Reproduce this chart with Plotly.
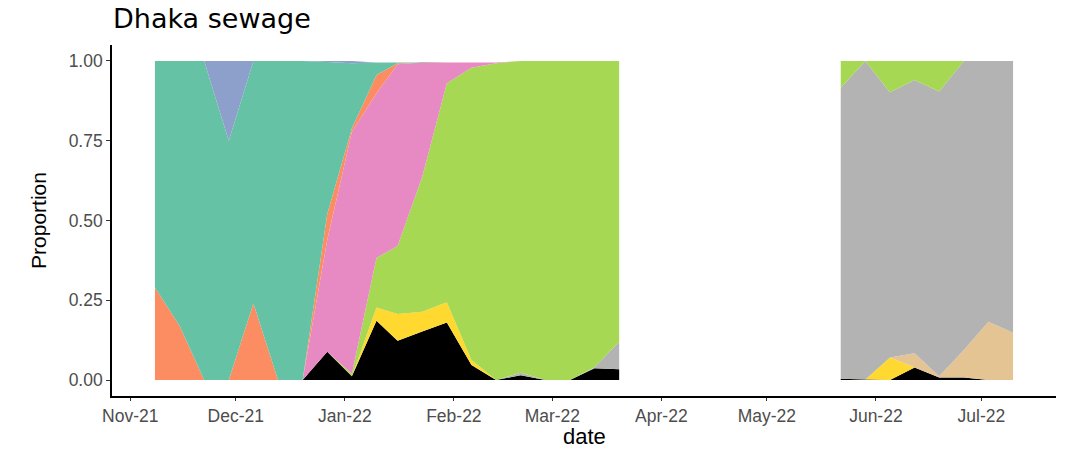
import pandas as pd
import plotly.graph_objects as go

# Weekly sewage sampling dates (two sampling runs with a gap in between)
dates = [
    "2021-11-08", "2021-11-15", "2021-11-22", "2021-11-29", "2021-12-06",
    "2021-12-13", "2021-12-20", "2021-12-27", "2022-01-03", "2022-01-10",
    "2022-01-16", "2022-01-23", "2022-01-30", "2022-02-06", "2022-02-13",
    "2022-02-20", "2022-02-27", "2022-03-06", "2022-03-13", "2022-03-20",
    "2022-05-22", "2022-05-29", "2022-06-05", "2022-06-12", "2022-06-19",
    "2022-06-26", "2022-07-03", "2022-07-10",
]

# Lineage proportions per sample, listed from the bottom of the stack upward
other = [0, 0, 0, 0, 0, 0, 0, 0.089, 0.012, 0.186, 0.123, 0.152, 0.180, 0.047,
         0, 0.015, 0, 0, 0.037, 0.034,
         0.004, 0.002, 0, 0.039, 0.008, 0.008, 0, 0]
ba_1_1 = [0, 0, 0, 0, 0, 0, 0, 0, 0, 0.041, 0.084, 0.062, 0.064, 0.016,
          0, 0, 0, 0, 0, 0,
          0, 0, 0.071, 0, 0, 0, 0, 0]
ba_4 = [0] * 20 + [0, 0, 0, 0.045, 0.004, 0.086, 0.183, 0.148]
ba_5 = [0, 0, 0, 0, 0, 0, 0, 0, 0, 0, 0, 0, 0, 0,
        0, 0.008, 0, 0, 0.003, 0.086,
        0.912, 0.998, 0.831, 0.856, 0.892, 0.906, 0.817, 0.852]
ba_2 = [0, 0, 0, 0, 0, 0, 0, 0, 0.008, 0.156, 0.213, 0.423, 0.686, 0.916,
        0.993, 0.977, 1.0, 1.0, 0.960, 0.880,
        0.084, 0, 0.098, 0.060, 0.096, 0, 0, 0]
ba_1 = [0, 0, 0, 0, 0, 0, 0, 0.351, 0.758, 0.516, 0.570, 0.358, 0.065, 0.016,
        0.002, 0, 0, 0, 0, 0] + [0] * 8
ay_4 = [0.29, 0.17, 0, 0, 0.24, 0, 0, 0.080, 0.011, 0.057, 0.003, 0, 0, 0,
        0, 0, 0, 0, 0, 0] + [0] * 8
delta = [0.71, 0.83, 1.0, 0.75, 0.76, 1.0, 1.0, 0.477, 0.204, 0.039, 0.002, 0, 0, 0,
         0, 0, 0, 0, 0, 0] + [0] * 8
ay_39 = [0, 0, 0, 0.25, 0, 0, 0, 0.003, 0.007, 0, 0, 0, 0, 0,
         0, 0, 0, 0, 0, 0] + [0] * 8

lineages = [
    ("Other", other, "#000000"),
    ("BA.1.1", ba_1_1, "#FFD92F"),
    ("BA.4", ba_4, "#E5C494"),
    ("BA.5", ba_5, "#B3B3B3"),
    ("BA.2", ba_2, "#A6D854"),
    ("BA.1", ba_1, "#E78AC3"),
    ("AY.4", ay_4, "#FC8D62"),
    ("Delta", delta, "#66C2A5"),
    ("AY.39", ay_39, "#8DA0CB"),
]

df = pd.DataFrame({"date": pd.to_datetime(dates)})
for name, vals, _ in lineages:
    df[name] = vals

# Split into sampling runs wherever consecutive samples are far apart
df["run"] = (df["date"].diff().dt.days > 30).cumsum()

fig = go.Figure()
for run_id, run in df.groupby("run"):
    for name, _, color in lineages:
        fig.add_trace(go.Scatter(
            x=run["date"], y=run[name], name=name,
            mode="lines", line=dict(width=0, color=color),
            fillcolor=color, stackgroup=f"run{run_id}",
            showlegend=False, hoverinfo="x+y+name",
        ))

font_family = "Liberation Sans, Arial, sans-serif"
fig.update_layout(
    width=1066, height=449,
    margin=dict(l=112, r=10, t=45, b=53),
    paper_bgcolor="white", plot_bgcolor="white",
    font=dict(family=font_family, color="#000000"),
    title=dict(text="Dhaka sewage", x=113 / 1066, xref="container", xanchor="left",
               y=1 - 19 / 449, yref="container", yanchor="middle",
               font=dict(size=27, color="#000000", family="DejaVu Sans, sans-serif")),
    xaxis=dict(
        type="date", range=["2021-10-26 19:00", "2022-07-22 05:00"],
        tick0="2021-11-01", dtick="M1", tickformat="%b-%y",
        ticks="outside", ticklen=3, tickwidth=1.2, tickcolor="#333333",
        tickfont=dict(size=17.5, color="#4D4D4D"),
        showline=True, linecolor="#000000", linewidth=1.6,
        showgrid=False, zeroline=False, automargin=False,
    ),
    yaxis=dict(
        title=dict(text="Proportion", font=dict(size=21, color="#000000"), standoff=16),
        range=[-0.05, 1.05], tickvals=[0, 0.25, 0.5, 0.75, 1.0], tickformat=".2f",
        ticks="outside", ticklen=4, tickwidth=1.2, tickcolor="#333333",
        tickfont=dict(size=17.5, color="#4D4D4D"),
        showline=True, linecolor="#000000", linewidth=1.6,
        showgrid=False, zeroline=False, automargin=False,
    ),
    annotations=[dict(
        text="date", xref="paper", yref="paper", x=0.5, y=-0.114,
        xanchor="center", yanchor="middle", showarrow=False, borderpad=0,
        font=dict(size=22, color="#000000"),
    )],
)

fig.write_html("out.html")
